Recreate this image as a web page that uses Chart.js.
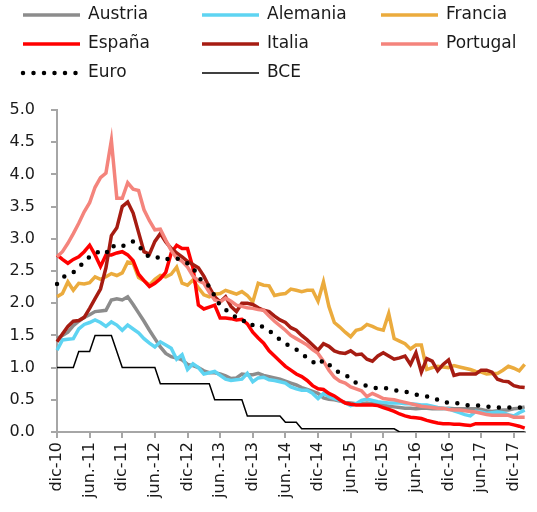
<!DOCTYPE html>
<html>
<head>
<meta charset="utf-8">
<script src="https://cdn.jsdelivr.net/npm/chart.js@4/dist/chart.umd.min.js"></script>
<style>
  body { margin: 0; background: #fff; }
  canvas { display: block; }
</style>
</head>
<body>
<canvas id="tipos" width="537" height="512"></canvas>
<script>
// meses: dic-10 .. feb-18
var mesesCortos = ["ene", "feb", "mar", "abr", "may", "jun", "jul", "ago", "sep", "oct", "nov", "dic"];
var meses = [];
for (var m = 11; m < 11 + 87; m++) {
    meses.push(mesesCortos[m % 12] + "-" + (10 + Math.floor(m / 12)));
}
var etiquetasEje = ["dic-10", "jun.-11", "dic-11", "jun.-12", "dic-12", "jun.-13", "dic-13", "jun.-14",
    "dic-14", "jun-15", "dic-15", "jun-16", "dic-16", "jun-17", "dic-17"];

var austria = [1.45,1.50,1.55,1.65,1.72,1.78,1.82,1.87,1.88,1.89,2.05,2.07,2.05,2.10,1.98,1.85,1.72,1.58,1.45,1.32,
    1.22,1.17,1.15,1.12,1.05,1.03,1.00,0.95,0.92,0.92,0.90,0.87,0.83,0.84,0.90,0.89,0.89,0.91,0.88,0.86,
    0.84,0.82,0.79,0.76,0.73,0.69,0.66,0.63,0.60,0.53,0.51,0.50,0.48,0.46,0.45,0.44,0.44,0.45,0.44,0.43,
    0.42,0.40,0.39,0.38,0.37,0.37,0.36,0.37,0.37,0.36,0.36,0.36,0.37,0.36,0.36,0.36,0.36,0.36,0.35,0.33,
    0.32,0.33,0.34,0.34,0.36,0.37,0.39];
var alemania = [1.27,1.43,1.44,1.45,1.60,1.67,1.70,1.74,1.70,1.64,1.71,1.66,1.58,1.66,1.60,1.54,1.45,1.38,1.32,1.40,
    1.35,1.30,1.13,1.20,0.97,1.06,1.00,0.90,0.92,0.94,0.88,0.82,0.80,0.81,0.82,0.91,0.78,0.84,0.85,0.81,
    0.80,0.78,0.76,0.70,0.67,0.65,0.65,0.60,0.52,0.60,0.55,0.52,0.49,0.45,0.41,0.44,0.49,0.51,0.49,0.47,
    0.46,0.45,0.45,0.45,0.44,0.44,0.43,0.42,0.42,0.40,0.38,0.37,0.36,0.33,0.30,0.27,0.25,0.32,0.31,0.29,
    0.30,0.31,0.30,0.27,0.25,0.30,0.34];
var francia = [2.10,2.15,2.33,2.20,2.31,2.30,2.32,2.41,2.37,2.41,2.46,2.43,2.47,2.64,2.62,2.40,2.35,2.28,2.37,2.43,
    2.41,2.45,2.56,2.31,2.28,2.36,2.24,2.13,2.10,2.14,2.15,2.20,2.17,2.14,2.18,2.12,2.02,2.31,2.28,2.27,
    2.12,2.14,2.15,2.22,2.20,2.18,2.20,2.20,2.03,2.33,1.95,1.70,1.63,1.55,1.48,1.58,1.60,1.67,1.64,1.60,
    1.58,1.84,1.45,1.41,1.37,1.29,1.35,1.35,0.97,1.00,1.02,1.01,1.00,1.03,1.01,0.99,0.97,0.94,0.93,0.90,
    0.91,0.91,0.96,1.02,0.99,0.95,1.05];
var espana = [2.75,2.68,2.62,2.68,2.72,2.80,2.90,2.75,2.57,2.75,2.75,2.78,2.80,2.75,2.66,2.45,2.35,2.26,2.31,2.38,
    2.48,2.78,2.90,2.85,2.85,2.55,1.97,1.91,1.94,1.97,1.77,1.77,1.76,1.74,1.75,1.68,1.55,1.46,1.38,1.26,
    1.18,1.10,1.02,0.96,0.90,0.86,0.80,0.72,0.67,0.66,0.60,0.56,0.50,0.45,0.43,0.42,0.42,0.42,0.42,0.41,
    0.38,0.35,0.32,0.28,0.25,0.23,0.22,0.21,0.18,0.16,0.14,0.13,0.13,0.12,0.12,0.11,0.10,0.13,0.13,0.13,
    0.13,0.13,0.13,0.13,0.11,0.09,0.06];
var italia = [1.40,1.52,1.64,1.72,1.73,1.78,1.92,2.07,2.22,2.55,3.05,3.17,3.50,3.57,3.40,3.10,2.80,2.76,2.96,3.08,
    2.95,2.85,2.78,2.72,2.65,2.60,2.55,2.42,2.25,2.10,2.02,2.10,1.95,1.87,2.00,2.00,1.98,1.93,1.89,1.87,
    1.80,1.74,1.70,1.62,1.58,1.50,1.43,1.35,1.27,1.37,1.33,1.26,1.23,1.22,1.26,1.20,1.21,1.13,1.10,1.18,
    1.23,1.18,1.13,1.15,1.18,1.05,1.23,0.93,1.14,1.10,0.95,1.05,1.12,0.88,0.90,0.90,0.90,0.90,0.96,0.96,
    0.93,0.82,0.79,0.78,0.72,0.70,0.69];
var portugal = [2.72,2.80,2.93,3.08,3.24,3.42,3.56,3.80,3.95,4.02,4.53,3.63,3.63,3.87,3.77,3.75,3.45,3.28,3.14,3.15,
    2.98,2.82,2.70,2.65,2.56,2.42,2.35,2.31,2.17,2.05,2.02,2.08,2.03,1.97,1.95,1.93,1.92,1.90,1.89,1.80,
    1.72,1.65,1.58,1.50,1.45,1.40,1.35,1.28,1.22,1.10,0.96,0.85,0.79,0.76,0.70,0.67,0.64,0.55,0.60,0.56,
    0.52,0.51,0.50,0.48,0.46,0.44,0.42,0.40,0.39,0.38,0.37,0.37,0.35,0.34,0.34,0.33,0.32,0.31,0.29,0.27,
    0.26,0.26,0.26,0.26,0.23,0.23,0.23];
var euro = [2.30,2.40,2.44,2.48,2.55,2.65,2.72,2.78,2.80,2.77,2.90,2.86,2.88,2.93,2.96,2.90,2.78,2.72,2.70,2.72,
    2.68,2.70,2.70,2.66,2.62,2.55,2.42,2.30,2.27,2.11,1.96,1.90,1.83,1.78,1.76,1.66,1.66,1.68,1.62,1.57,
    1.51,1.43,1.37,1.33,1.28,1.22,1.15,1.09,1.04,1.12,1.05,0.97,0.92,0.88,0.84,0.76,0.73,0.72,0.69,0.68,
    0.69,0.67,0.65,0.64,0.63,0.60,0.58,0.56,0.55,0.54,0.50,0.46,0.46,0.46,0.44,0.42,0.41,0.41,0.41,0.40,
    0.38,0.38,0.38,0.38,0.38,0.38,0.38];
var bce = [1.00,1.00,1.00,1.00,1.25,1.25,1.25,1.50,1.50,1.50,1.50,1.25,1.00,1.00,1.00,1.00,1.00,1.00,1.00,0.75,
    0.75,0.75,0.75,0.75,0.75,0.75,0.75,0.75,0.75,0.50,0.50,0.50,0.50,0.50,0.50,0.25,0.25,0.25,0.25,0.25,
    0.25,0.25,0.15,0.15,0.15,0.05,0.05,0.05,0.05,0.05,0.05,0.05,0.05,0.05,0.05,0.05,0.05,0.05,0.05,0.05,
    0.05,0.05,0.05,0.00,0.00,0.00,0.00,0.00,0.00,0.00,0.00,0.00,0.00,0.00,0.00,0.00,0.00,0.00,0.00,0.00,
    0.00,0.00,0.00,0.00,0.00,0.00,0.00];

var fuente = "'DejaVu Sans', sans-serif";

function serie(nombre, datos, color, ancho) {
    return {
        label: nombre,
        data: datos,
        borderColor: color,
        backgroundColor: color,
        borderWidth: ancho,
        pointRadius: 0,
        tension: 0,
        fill: false
    };
}

var series = [
    serie("Austria", austria, "#8c8c8c", 3.5),
    serie("Alemania", alemania, "#5ed4f2", 3.5),
    serie("Francia", francia, "#ebab3d", 3.5),
    serie("España", espana, "#ff0000", 3.5),
    serie("Italia", italia, "#a61c12", 3.5),
    serie("Portugal", portugal, "#f4847c", 3.5),
    serie("Euro", euro, "#000000", 4.5),
    serie("BCE", bce, "#000000", 1.5)
];
series[6].borderDash = [0, 10.5];
series[6].borderCapStyle = "round";
// las ultimas series se pintan encima
series.forEach(function (s, i) { s.order = series.length - i; });

// leyenda en tres columnas
var leyenda = {
    id: "leyenda",
    afterDraw: function (chart) {
        var ctx = chart.ctx;
        var cols = [23, 202, 381];
        var filas = [15, 44, 73];
        chart.data.datasets.forEach(function (ds, i) {
            var x = cols[i % 3], y = filas[Math.floor(i / 3)];
            ctx.save();
            ctx.strokeStyle = ds.borderColor;
            ctx.lineWidth = ds.borderWidth;
            ctx.lineCap = ds.borderCapStyle || "butt";
            ctx.setLineDash(ds.borderDash || []);
            ctx.beginPath();
            ctx.moveTo(x, y);
            ctx.lineTo(x + 57, y);
            ctx.stroke();
            ctx.restore();
            ctx.save();
            ctx.fillStyle = "#1a1a1a";
            ctx.font = "17px " + fuente;
            ctx.textBaseline = "middle";
            ctx.fillText(ds.label, x + 65, y);
            ctx.restore();
        });
    }
};

new Chart(document.getElementById("tipos"), {
    type: "line",
    data: { labels: meses, datasets: series },
    options: {
        responsive: false,
        animation: false,
        layout: { padding: { top: 110, right: 0, bottom: 0, left: 0 } },
        plugins: { legend: { display: false }, tooltip: { enabled: false } },
        scales: {
            x: {
                offset: false,
                border: { color: "#a6a6a6", width: 2 },
                grid: { drawOnChartArea: false, color: "#a6a6a6", lineWidth: 2, tickLength: 6 },
                ticks: {
                    autoSkip: false,
                    maxRotation: 90,
                    minRotation: 90,
                    padding: 4,
                    color: "#1a1a1a",
                    font: { family: fuente, size: 16 },
                    callback: function (v, i) { return i % 6 === 0 ? etiquetasEje[i / 6] : null; }
                },
                afterFit: function (s) { s.height = 80; }
            },
            y: {
                min: 0,
                max: 5,
                border: { color: "#a6a6a6", width: 2 },
                grid: { drawOnChartArea: false, color: "#a6a6a6", lineWidth: 2, tickLength: 6 },
                ticks: {
                    stepSize: 0.5,
                    padding: 16,
                    color: "#1a1a1a",
                    font: { family: fuente, size: 16 },
                    callback: function (v) { return v.toFixed(1); }
                },
                afterFit: function (s) { s.width = 57; }
            }
        }
    },
    plugins: [leyenda]
});
</script>
</body>
</html>
